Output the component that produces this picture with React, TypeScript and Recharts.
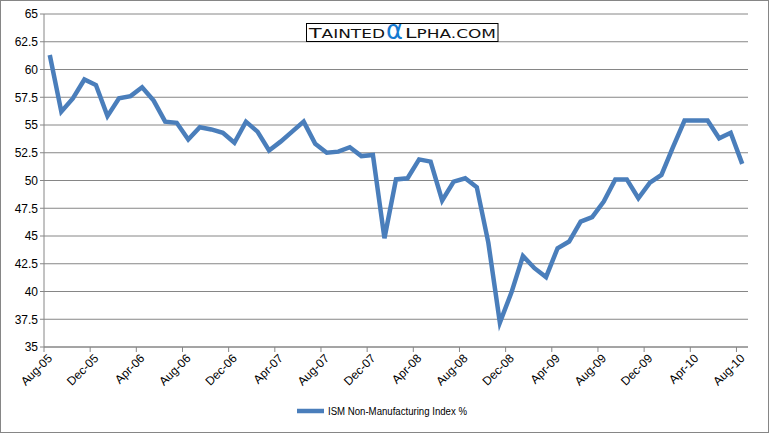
import { LineChart, Line, XAxis, YAxis, CartesianGrid, Legend } from "recharts";

// monthly categories, Aug-05 .. Aug-10
const months = [
  "Aug-05", "Sep-05", "Oct-05", "Nov-05", "Dec-05",
  "Jan-06", "Feb-06", "Mar-06", "Apr-06", "May-06", "Jun-06", "Jul-06", "Aug-06", "Sep-06", "Oct-06", "Nov-06", "Dec-06",
  "Jan-07", "Feb-07", "Mar-07", "Apr-07", "May-07", "Jun-07", "Jul-07", "Aug-07", "Sep-07", "Oct-07", "Nov-07", "Dec-07",
  "Jan-08", "Feb-08", "Mar-08", "Apr-08", "May-08", "Jun-08", "Jul-08", "Aug-08", "Sep-08", "Oct-08", "Nov-08", "Dec-08",
  "Jan-09", "Feb-09", "Mar-09", "Apr-09", "May-09", "Jun-09", "Jul-09", "Aug-09", "Sep-09", "Oct-09", "Nov-09", "Dec-09",
  "Jan-10", "Feb-10", "Mar-10", "Apr-10", "May-10", "Jun-10", "Jul-10", "Aug-10",
];

const ismValues = [
  61.3, 56.2, 57.4, 59.1, 58.6,
  55.8, 57.4, 57.6, 58.4, 57.2, 55.3, 55.2, 53.7, 54.8, 54.6, 54.3, 53.4,
  55.3, 54.4, 52.7, 53.5, 54.4, 55.3, 53.3, 52.5, 52.6, 53.0, 52.2, 52.3,
  44.8, 50.1, 50.2, 51.9, 51.7, 48.2, 49.9, 50.2, 49.4, 44.4, 37.2, 39.9,
  43.2, 42.1, 41.3, 43.9, 44.5, 46.3, 46.7, 48.1, 50.1, 50.1, 48.4, 49.8,
  50.5, 53.0, 55.4, 55.4, 55.4, 53.8, 54.3, 51.5,
];

const yTicks = [35, 37.5, 40, 42.5, 45, 47.5, 50, 52.5, 55, 57.5, 60, 62.5, 65];
// category index of each labelled tick (tick sits on the boundary before it)
const labelIdx = [0, 4, 8, 12, 16, 20, 24, 28, 32, 36, 40, 44, 48, 52, 56, 60];

const SERIES_NAME = "ISM Non-Manufacturing Index %";
const LINE_COLOR = "#4a7ebb";
const GRID = "#868686";
const FONT = "'Liberation Sans', Arial, sans-serif";

const data = months.map((m, i) => ({ i, month: m, ism: ismValues[i] }));

function MonthTick(props: any) {
  const { x, y, payload } = props;
  const label = months[Math.round(payload.value + 0.5)];
  return (
    <text
      x={0}
      y={0}
      transform={`translate(${x + 9},${y + 5}) rotate(-45)`}
      textAnchor="end"
      fontSize={12}
      fontFamily={FONT}
      fill="#000"
    >
      {label}
    </text>
  );
}

// legend drawn narrow, like the Calibri text of the original
function LegendBox() {
  return (
    <div style={{ display: "flex", justifyContent: "center" }}>
      <svg width={176} height={16} style={{ overflow: "visible" }}>
        <line x1={0} y1={8} x2={27} y2={8} stroke={LINE_COLOR} strokeWidth={4.5} />
        <text
          x={31}
          y={12}
          textLength={139}
          lengthAdjust="spacingAndGlyphs"
          fontSize={10}
          fontFamily={FONT}
          fill="#000"
        >
          {SERIES_NAME}
        </text>
      </svg>
    </div>
  );
}

export default function App() {
  return (
    <div style={{ position: "relative", width: 769, height: 433, background: "#fff" }}>
      <style>{`body{margin:0}`}</style>
      <LineChart
        width={769}
        height={433}
        data={data}
        margin={{ top: 14, right: 21, bottom: 0, left: 0 }}
        style={{ position: "absolute", left: 0, top: 0 }}
      >
        <CartesianGrid stroke={GRID} vertical={false} />
        <XAxis
          dataKey="i"
          type="number"
          domain={[-0.5, 60.5]}
          ticks={labelIdx.map((k) => k - 0.5)}
          interval={0}
          height={86}
          stroke={GRID}
          tickSize={5}
          tick={<MonthTick />}
        />
        <YAxis
          domain={[35, 65]}
          ticks={yTicks}
          interval={0}
          width={44}
          stroke={GRID}
          tickSize={4}
          tick={{ fontSize: 12, fontFamily: FONT, fill: "#000" }}
        />
        <Legend
          verticalAlign="middle"
          align="center"
          wrapperStyle={{ top: 403, left: 0, width: 769 }}
          content={() => <LegendBox />}
        />
        <Line
          dataKey="ism"
          name={SERIES_NAME}
          stroke={LINE_COLOR}
          strokeWidth={4.5}
          dot={false}
          activeDot={false}
          isAnimationActive={false}
        />
      </LineChart>
      {/* watermark */}
      <svg
        width={769}
        height={433}
        style={{ position: "absolute", left: 0, top: 0, pointerEvents: "none" }}
      >
        <rect x={306.5} y={23.5} width={191.5} height={18} fill="#fff" stroke="#000" />
        <text
          x={309}
          y={37.5}
          textLength={76}
          lengthAdjust="spacingAndGlyphs"
          fontFamily="'DejaVu Sans', sans-serif"
          fill="#111"
        >
          <tspan fontSize={14}>T</tspan>
          <tspan fontSize={11.5}>AINTED</tspan>
        </text>
        <text
          x={386}
          y={39}
          textLength={17}
          lengthAdjust="spacingAndGlyphs"
          fontFamily="'DejaVu Sans', sans-serif"
          fontSize={27}
          fill="#1479d0"
        >
          α
        </text>
        <text
          x={405}
          y={37.5}
          textLength={91}
          lengthAdjust="spacingAndGlyphs"
          fontFamily="'DejaVu Sans', sans-serif"
          fill="#111"
        >
          <tspan fontSize={14}>L</tspan>
          <tspan fontSize={11.5}>PHA.COM</tspan>
        </text>
      </svg>
      <div
        style={{
          position: "absolute",
          inset: 0,
          border: `1px solid ${GRID}`,
          pointerEvents: "none",
        }}
      />
    </div>
  );
}
